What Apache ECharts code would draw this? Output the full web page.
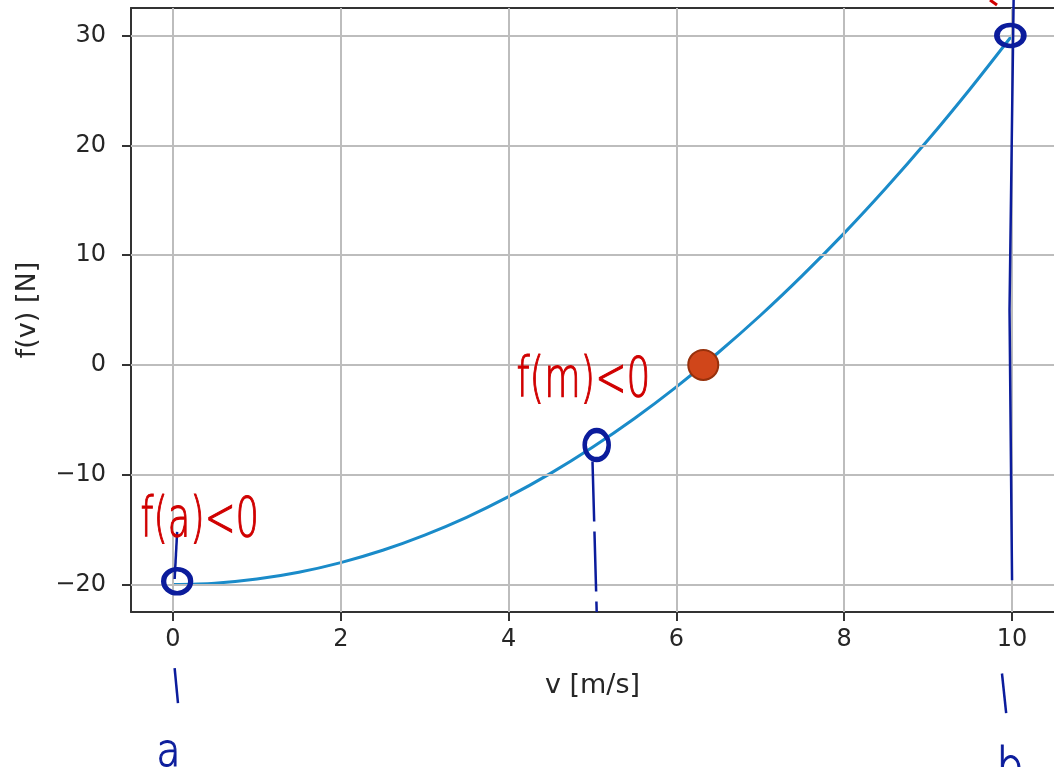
<!DOCTYPE html>
<html>
<head>
<meta charset="utf-8">
<script src="https://cdn.jsdelivr.net/npm/echarts@6/dist/echarts.min.js"></script>
<style>
  html, body { margin: 0; padding: 0; background: #fff; }
  #chart { width: 1054px; height: 767px; }
</style>
</head>
<body>
<div id="chart"></div>
<script>
// values
const vValues = [0, 0.5, 1, 1.5, 2, 2.5, 3, 3.5, 4, 4.5, 5, 5.5, 6, 6.5, 7, 7.5, 8, 8.5, 9, 9.5, 10];
const fValues = [-20, -19.88, -19.5, -18.88, -18, -16.88, -15.5, -13.88, -12, -9.88, -7.5, -4.88, -2, 1.13, 4.5, 8.13, 12, 16.13, 20.5, 25.13, 30];
const rootPoint = [6.32, 0];
const xTicks = [0, 2, 4, 6, 8, 10];
const yTicks = [-20, -10, 0, 10, 20, 30];

// hand drawn marks: circles at a, m, b and the pen strokes
const circledPoints = [[0.05, -19.7], [5.05, -7.3], [9.98, 30]];
const circleSizes = [[27, 24], [24, 29], [27, 21]];
const strokeA = [[0.02, -19.5], [0.05, -15.2]];
const strokeABelow = [[0.02, -27.6], [0.06, -30.8]];
const strokeM = [[5.0, -8.8], [5.05, -22.5]];
const strokeB = [[10.0, -19.6], [9.97, 5], [10.02, 34]];
const strokeBBelow = [[9.88, -28.1], [9.93, -31.7]];

const FONT = 'DejaVu Sans';
const INK = '#0b1c9c';
const RED = '#d00000';
const TEXT = '#262626';

const minus = v => String(v).replace('-', '\u2212');

const chart = echarts.init(document.getElementById('chart'));

const lineData = vValues.map((v, i) => [v, fValues[i]]);

function stroke(points, dashed) {
  return {
    type: 'line',
    data: points,
    symbol: 'none',
    clip: false,
    silent: true,
    z: 6,
    lineStyle: { color: INK, width: 2.5, type: dashed ? [60, 10] : 'solid' }
  };
}

function handText(text, left, top, color, size, sx) {
  return {
    type: 'text', left: left, top: top, z: 10, scaleX: sx,
    style: { text: text, fill: color, stroke: color, lineWidth: 1.2, font: '200 ' + size + 'px "DejaVu Sans"' }
  };
}

chart.setOption({
  animation: false,
  grid: { left: 131, top: 8, width: 929, height: 604 },
  xAxis: [{
    type: 'value',
    min: -0.5,
    max: 10.5,
    name: 'v [m/s]',
    nameLocation: 'middle',
    nameGap: 60,
    nameTextStyle: { fontFamily: FONT, fontSize: 27, color: TEXT },
    axisLine: { onZero: false, lineStyle: { color: '#333', width: 2 } },
    axisTick: { customValues: xTicks, length: 9, lineStyle: { color: '#333', width: 2 } },
    axisLabel: { customValues: xTicks, margin: 16, fontFamily: FONT, fontSize: 24, color: TEXT, formatter: minus },
    splitLine: { show: false }
  }, {
    type: 'value',
    position: 'top',
    min: -0.5,
    max: 10.5,
    axisLine: { onZero: false, lineStyle: { color: '#333', width: 2 } },
    axisTick: { show: false },
    axisLabel: { show: false },
    splitLine: { show: false }
  }],
  yAxis: {
    type: 'value',
    min: -22.5,
    max: 32.5,
    name: 'f(v) [N]',
    nameLocation: 'middle',
    nameGap: 90,
    nameTextStyle: { fontFamily: FONT, fontSize: 27, color: TEXT },
    axisLine: { onZero: false, lineStyle: { color: '#333', width: 2 } },
    axisTick: { customValues: yTicks, length: 9, lineStyle: { color: '#333', width: 2 } },
    axisLabel: { customValues: yTicks, margin: 25, fontFamily: FONT, fontSize: 24, color: TEXT, formatter: minus },
    splitLine: { show: false }
  },
  series: [
    {
      // grid lines
      type: 'line',
      data: [],
      silent: true,
      z: 1,
      markLine: {
        silent: true,
        symbol: 'none',
        label: { show: false },
        lineStyle: { color: '#bdbdbd', width: 2, type: 'solid' },
        data: xTicks.map(v => ({ xAxis: v })).concat(yTicks.map(v => ({ yAxis: v })))
      }
    },
    {
      type: 'line',
      data: lineData,
      smooth: 0.3,
      symbol: 'none',
      z: 3,
      lineStyle: { color: '#1a8bc9', width: 3 }
    },
    {
      type: 'scatter',
      data: [rootPoint],
      symbolSize: 30,
      z: 5,
      itemStyle: { color: '#d0461a', borderColor: '#97310c', borderWidth: 2, opacity: 1 }
    },
    {
      type: 'scatter',
      data: circledPoints.map((p, i) => ({ value: p, symbolSize: circleSizes[i] })),
      symbol: 'circle',
      clip: false,
      z: 7,
      itemStyle: { color: 'rgba(0,0,0,0)', borderColor: INK, borderWidth: 5, opacity: 1 }
    },
    stroke(strokeA),
    stroke(strokeABelow),
    stroke(strokeM, true),
    stroke(strokeB),
    stroke(strokeBBelow)
  ],
  graphic: [
    handText('f(a)<0', 140, 494, RED, 55, 0.67),
    handText('f(m)<0', 516, 354, RED, 55, 0.68),
    handText('a', 156, 730, INK, 46, 0.85),
    handText('b', 996, 744, INK, 50, 0.85),
    { type: 'line', z: 10,
      shape: { x1: 990, y1: 0, x2: 997, y2: 5 },
      style: { stroke: RED, lineWidth: 3 } }
  ]
});
</script>
</body>
</html>
